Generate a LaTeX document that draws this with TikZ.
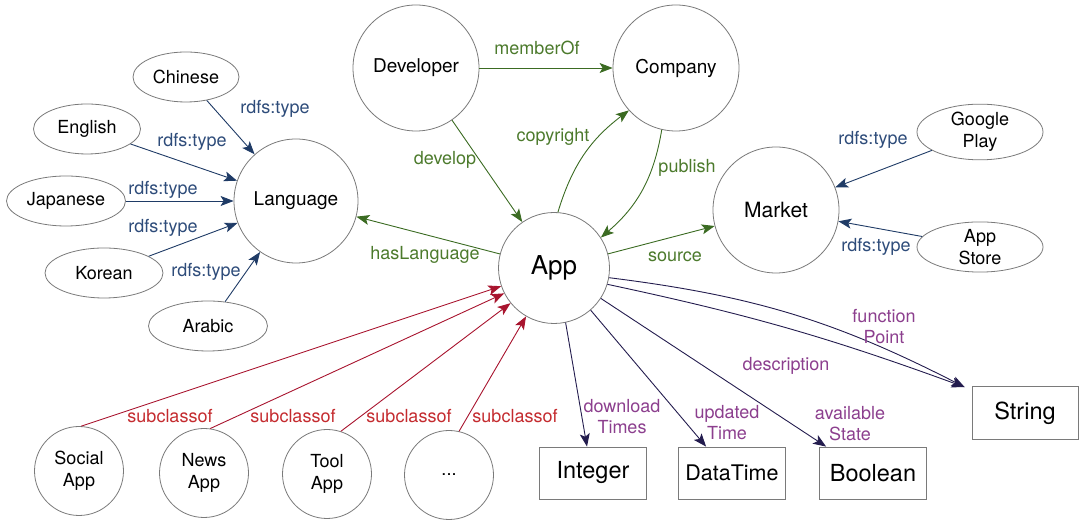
\documentclass[tikz,border=0pt]{standalone}
\usepackage{fontspec}
\setmainfont{TeX Gyre Heros}
\usetikzlibrary{arrows.meta,shapes.geometric}
\definecolor{grn}{HTML}{3B6B22}
\definecolor{grnlab}{HTML}{4C7A2C}
\definecolor{blu}{HTML}{1F3B66}
\definecolor{blulab}{HTML}{2E4C7A}
\definecolor{rd}{HTML}{A8142E}
\definecolor{rdlab}{HTML}{C42B2F}
\definecolor{nav}{HTML}{231C4E}
\definecolor{pur}{HTML}{8C3F8E}
\definecolor{brd}{HTML}{7A7A7A}
\begin{document}
\begin{tikzpicture}[x=1pt,y=1pt,
  every node/.style={inner sep=0pt},
  circ/.style={circle,draw=brd,line width=0.8pt,fill=white,minimum size=#1,align=center,font=\fontsize{19}{22}\selectfont},
  circ/.default=126,
  ell/.style={ellipse,draw=brd,line width=0.8pt,fill=white,minimum width=#1,minimum height=50,align=center,font=\fontsize{18}{22}\selectfont},
  dbox/.style={rectangle,draw=brd,line width=0.8pt,fill=white,minimum width=107,minimum height=52,font=\fontsize{23.5}{26}\selectfont},
  lab/.style={align=center,font=\fontsize{18}{21}\selectfont},
  arr/.style={line width=0.9pt,-{Stealth[length=13pt,width=10pt,inset=3pt]}},
  gedge/.style={arr,draw=grn},
  bedge/.style={arr,draw=blu},
  redge/.style={arr,draw=rd},
  nedge/.style={arr,draw=nav},
  glab/.style={lab,text=grnlab},
  blab/.style={lab,text=blulab},
  rlab/.style={lab,text=rdlab},
  plab/.style={lab,text=pur}
]
\useasboundingbox (0,0) rectangle (1080,524);
% nodes
\node[ell=106] (chi) at (186,447) {Chinese};
\node[ell=107] (eng) at (87,395) {English};
\node[ell=119] (jap) at (66,323) {Japanese};
\node[ell=118] (kor) at (104,251) {Korean};
\node[ell=119] (ara) at (208,198) {Arabic};
\node[circ=124] (lang) at (296,323) {Language};
\node[circ] (dev) at (416,456) {Developer};
\node[circ] (com) at (676,456) {Company};
\node[circ=111,font=\fontsize{26}{28}\selectfont] (app) at (554,256) {App};
\node[circ,font=\fontsize{21}{22}\selectfont] (mkt) at (776,314) {Market};
\node[ell=126] (gp) at (980,392) {Google\\Play};
\node[ell=126] (as) at (980,277) {App\\Store};
\node[circ=89,font=\fontsize{18}{22}\selectfont] (soc) at (79,53) {Social\\App};
\node[circ=89,font=\fontsize{18}{22}\selectfont] (news) at (204,51) {News\\App};
\node[circ=89,font=\fontsize{18}{22}\selectfont] (tool) at (327,50) {Tool\\App};
\node[circ=89,font=\fontsize{18}{22}\selectfont] (dots) at (449,49) {...};
\node[dbox] (int) at (593,51) {Integer};
\node[dbox,font=\fontsize{21.5}{24}\selectfont] (dt) at (732,51) {DataTime};
\node[dbox] (bool) at (873,51) {Boolean};
\node[dbox,minimum width=106,minimum height=53] (str) at (1025,111) {String};
% green edges
\draw[gedge] (dev) -- (com);
\draw[gedge] (dev) -- (app);
\draw[gedge] (app.86) to[bend left=18] (com.222);
\draw[gedge] (com.257) to[bend left=20] (app.33);
\draw[gedge] (app) -- (lang);
\draw[gedge] (app) -- (mkt);
% blue edges
\draw[bedge] (chi) -- (lang);
\draw[bedge] (eng) -- (lang);
\draw[bedge] (jap) -- (lang);
\draw[bedge] (kor) -- (lang);
\draw[bedge] (ara) -- (lang);
\draw[bedge] (gp) -- (mkt);
\draw[bedge] (as) -- (mkt);
% red edges
\draw[redge] (soc.87) -- (app.199);
\draw[redge] (news.82) -- (app.207);
\draw[redge] (tool.72) -- (app.219);
\draw[redge] (dots.77) -- (app.240);
% datatype edges
\draw[nedge] (app.282) -- ([xshift=-6]int.north);
\draw[nedge] (app.311) -- ([xshift=28]dt.north west);
\draw[nedge] (app.327) -- ([xshift=7]bool.north west);
\draw[nedge] (app.343) to[bend left=4] ([xshift=-7,yshift=-1]str.north west);
\draw[nedge] (app.350) to[bend left=10] ([xshift=-7,yshift=-1]str.north west);
% labels
\node[glab] (lmem) at (537,476) {memberOf};
\node[glab] (lcop) at (553,387) {copyright};
\node[glab] (ldev) at (445,364) {develop};
\node[glab] (lpub) at (687,356) {publish};
\node[glab] (lhas) at (425,269) {hasLanguage};
\node[glab] (lsrc) at (675,267) {source};
\node[blab] (lr1) at (275,415) {rdfs:type};
\node[blab] (lr2) at (192,382) {rdfs:type};
\node[blab] (lr3) at (163,334) {rdfs:type};
\node[blab] (lr4) at (163,296) {rdfs:type};
\node[blab] (lr5) at (206,252) {rdfs:type};
\node[blab] (lr6) at (873,384) {rdfs:type};
\node[blab] (lr7) at (876,277) {rdfs:type};
\node[rlab] (ls1) at (170,108) {subclassof};
\node[rlab] (ls2) at (293,108) {subclassof};
\node[rlab] (ls3) at (409,108) {subclassof};
\node[rlab] (ls4) at (515,108) {subclassof};
\node[plab] (lfp) at (884,197) {function\\Point};
\node[plab] (ldes) at (786,158) {description};
\node[plab] (ldl) at (622,107) {download\\Times};
\node[plab] (lup) at (727,101) {updated\\Time};
\node[plab] (lav) at (850,100) {available\\State};
\end{tikzpicture}
\end{document}
